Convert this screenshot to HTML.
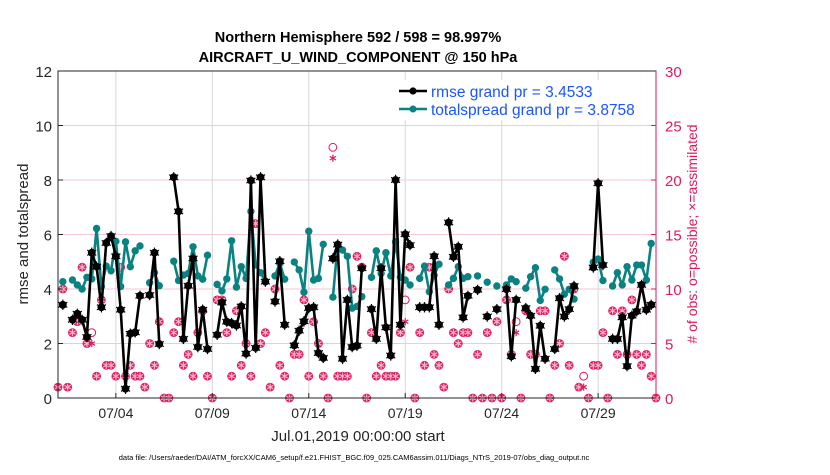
<!DOCTYPE html>
<html><head><meta charset="utf-8"><style>
body{margin:0;background:#fff;width:830px;height:470px;overflow:hidden;font-family:"Liberation Sans",sans-serif}
</style></head><body>
<svg id="chart" width="830" height="470" xmlns="http://www.w3.org/2000/svg" font-family="Liberation Sans, sans-serif">
<rect width="830" height="470" fill="#fff"/>
<g id="grid"></g>
<g id="series"></g>
<g id="axes"></g>
</svg>
<script>
const tickDays=[3,8,13,18,23,28];
const tickLabels=["07/04","07/09","07/14","07/19","07/24","07/29"];
const leftTicks=[0,2,4,6,8,10,12];
const rightTicks=[0,5,10,15,20,25,30];
const N=null;
const rmse=[N,3.42,N,2.87,3.09,2.87,2.24,5.33,4.82,3.33,5.69,5.94,5.2,3.24,0.34,2.36,2.41,3.75,N,3.78,5.33,1.98,N,N,8.1,6.85,2.17,4.12,5.12,1.87,3.24,1.8,N,2.32,3.5,2.8,2.75,2.66,3.36,1.63,7.98,1.84,8.1,4.27,N,3.54,5.02,2.69,N,1.93,2.47,2.81,3.3,3.33,1.65,1.47,N,5.12,5.63,1.44,3.6,1.87,1.92,4.76,N,3.26,2.17,4.76,2.59,1.56,8.0,2.69,6.01,5.61,N,3.33,3.33,3.33,5.2,2.69,N,6.44,5.18,5.55,2.96,3.75,N,3.97,N,2.99,N,3.26,N,3.99,1.53,3.6,N,3.3,3.02,1.07,2.65,1.44,N,1.8,3.66,2.99,3.26,4.11,N,N,N,4.79,7.88,4.88,N,2.17,2.17,2.96,1.17,3.02,3.18,4.15,3.24,3.42,N];
const spread=[N,4.27,N,4.33,4.15,4.0,4.43,4.37,6.22,4.09,4.84,4.67,5.75,4.09,5.73,4.82,5.4,5.58,N,4.23,4.6,4.12,N,N,5.02,4.31,4.51,4.57,5.55,4.48,4.36,5.24,N,4.17,3.93,4.37,5.77,4.07,4.82,4.39,6.85,4.88,4.6,4.29,N,4.48,4.94,4.36,N,4.99,4.7,3.88,6.12,4.33,4.39,5.64,N,3.7,5.64,5.43,5.2,3.3,3.36,3.72,N,4.43,5.4,4.57,5.33,4.48,5.73,4.43,4.33,4.15,N,4.39,4.84,3.9,4.51,4.91,N,4.15,4.39,4.82,4.39,4.45,N,4.48,N,4.25,N,4.11,N,4.15,4.37,4.27,N,4.03,4.45,4.78,3.58,3.99,N,4.7,4.37,3.81,3.99,3.63,N,N,N,4.98,5.1,4.31,N,4.11,4.6,4.15,4.82,4.33,4.88,4.88,4.33,5.67,N];
const assimilated=[1,10,1,6,7,12,5,5,2,9,3,3,2,12,2,3,2,2,1,5,3,7,0,0,6,7,3,4,2,6,8,2,0,9,9,6,2,8,3,5,2,16,5,6,1,10,3,2,0,4,4,9,2,7,5,2,0,22,2,2,2,10,13,12,0,6,2,3,2,2,2,6,7,12,0,6,3,12,4,3,1,10,6,5,6,6,0,4,0,6,0,7,0,9,4,6,0,8,4,4,8,8,0,3,5,13,3,10,1,1,0,3,3,6,0,8,4,8,4,9,4,3,4,2,0];
const possible=[1,10,1,6,7,12,5,6,2,9,3,3,2,12,2,3,2,2,1,5,3,7,0,0,6,7,3,4,2,6,8,2,0,9,9,6,2,8,3,5,2,16,5,6,1,10,3,2,0,4,4,9,2,7,5,2,0,23,2,2,2,10,13,12,0,6,2,3,2,2,2,6,9,12,0,6,3,12,4,3,1,10,6,5,6,6,0,4,0,6,0,7,0,9,4,7,0,8,4,4,8,8,0,3,5,13,3,10,1,2,0,3,3,6,0,8,4,8,4,9,4,3,4,2,0];

const NS='http://www.w3.org/2000/svg';
const L=58,R=656,T=71,B=398;
const xDay=d=>L+d*(R-L)/31;
const xIdx=j=>xDay(j*0.25);
const yL=v=>B-v*(B-T)/12;
const yR=v=>B-v*(B-T)/30;
const PINK='#de1a5c',TEAL='#0b8282';
function mk(tag,attrs,parent){const e=document.createElementNS(NS,tag);for(const k in attrs)e.setAttribute(k,attrs[k]);parent.appendChild(e);return e;}
const grid=document.getElementById('grid'),ser=document.getElementById('series'),ax=document.getElementById('axes');

tickDays.forEach((d,i)=>{
  const ln=mk('line',{x1:xDay(d),x2:xDay(d),y1:T,y2:B,stroke:'#d8d8d8','stroke-width':1},grid);
  
  
  const t=mk('text',{x:xDay(d),y:B+20,'text-anchor':'middle','font-size':14,fill:'#262626'},ax);
  t.textContent=tickLabels[i];
  
  
  mk('line',{x1:xDay(d),x2:xDay(d),y1:B,y2:B-5,stroke:'#262626'},ax);
});
rightTicks.forEach(v=>{
  if(v>0&&v<30){const g=mk('line',{x1:L,x2:R,y1:yR(v),y2:yR(v),stroke:'#f5c6d6','stroke-width':1},grid);
  
  }
  const t=mk('text',{x:R+9,y:yR(v)+6,'font-size':15,fill:PINK},ax);
  t.textContent=v;
  
  
  mk('line',{x1:R,x2:R-5,y1:yR(v),y2:yR(v),stroke:PINK},ax);
});
leftTicks.forEach(v=>{
  const t=mk('text',{x:L-6,y:yL(v)+6,'text-anchor':'end','font-size':15,fill:'#262626'},ax);
  t.textContent=v;
  
  
  mk('line',{x1:L,x2:L+5,y1:yL(v),y2:yL(v),stroke:'#262626'},ax);
});

function star(x,y,r,col,parent){
  for(let a=0;a<3;a++){const an=a*Math.PI/3+Math.PI/2;
    mk('line',{x1:x-r*Math.cos(an),y1:y-r*Math.sin(an),x2:x+r*Math.cos(an),y2:y+r*Math.sin(an),stroke:col,'stroke-width':1.2},parent);}
}
possible.forEach((v,j)=>{
  const c=mk('circle',{cx:xIdx(j),cy:yR(v),r:3.9,fill:'none',stroke:PINK,'stroke-width':1},ser);
  
  
});
assimilated.forEach((v,j)=>{
  const g=mk('g',{},ser);
  
  
  if(v===possible[j]) mk('circle',{cx:xIdx(j),cy:yR(v),r:3.6,fill:PINK},g);
  star(xIdx(j),yR(v),3.6,v===possible[j]?'#f7b3c8':PINK,g);
});
function series(data,col,name,mname,mr){
  let d='',pen=false;
  data.forEach((v,j)=>{if(v===null){pen=false;return;}d+=(pen?'L':'M')+xIdx(j).toFixed(1)+' '+yL(v).toFixed(1)+' ';pen=true;});
  const p=mk('path',{d:d,fill:'none',stroke:col,'stroke-width':2.6,'stroke-linejoin':'round'},ser);
  
  
  data.forEach((v,j)=>{if(v===null)return;
    const c=mk('circle',{cx:xIdx(j),cy:yL(v),r:mr,fill:col},ser);
    
    
    if(col==='#000')star(xIdx(j),yL(v),5.2,'#000',ser);});
}
series(spread,TEAL,'totalspread-line','totalspread-point',3.7);
series(rmse,'#000','rmse-line','rmse-point',3.9);
</script>
<svg style="position:absolute;left:0;top:0" width="830" height="470" xmlns="http://www.w3.org/2000/svg" font-family="Liberation Sans, sans-serif">
<rect x="58" y="71" width="598" height="327" fill="none" stroke="#262626" stroke-width="1"/>
<line x1="656" y1="71" x2="656" y2="398" stroke="#de1a5c"/>
<text x="358" y="42" text-anchor="middle" font-size="14.5" font-weight="bold" fill="#000">Northern Hemisphere 592 / 598 = 98.997%</text>
<text x="358" y="62" text-anchor="middle" font-size="14.5" font-weight="bold" fill="#000">AIRCRAFT_U_WIND_COMPONENT @ 150 hPa</text>
<text transform="translate(28,234) rotate(-90)" text-anchor="middle" font-size="15" fill="#262626">rmse and totalspread</text>
<text transform="translate(697,234) rotate(-90)" text-anchor="middle" font-size="14" fill="#de1a5c"># of obs: o=possible; ×=assimilated</text>
<text x="358" y="441" text-anchor="middle" font-size="15" fill="#262626">Jul.01,2019 00:00:00 start</text>
<text x="354" y="460" text-anchor="middle" font-size="7.5" fill="#000">data file: /Users/raeder/DAI/ATM_forcXX/CAM6_setup/f.e21.FHIST_BGC.f09_025.CAM6assim.011/Diags_NTrS_2019-07/obs_diag_output.nc</text>
<g>
<rect x="396" y="80" width="255" height="40" fill="#fff"/>
<line x1="399" y1="91" x2="427" y2="91" stroke="#000" stroke-width="2.4"/>
<circle cx="413" cy="91" r="3.6" fill="#000"/>
<text x="431" y="97" font-size="15.5" fill="#1a55ff">rmse grand pr = 3.4533</text>
<line x1="399" y1="109" x2="427" y2="109" stroke="#0b8282" stroke-width="2.4"/>
<circle cx="413" cy="109" r="3.5" fill="#0b8282"/>
<text x="431" y="115" font-size="15.5" fill="#1a55ff">totalspread grand pr = 3.8758</text>
</g>
</svg>
</body></html>
